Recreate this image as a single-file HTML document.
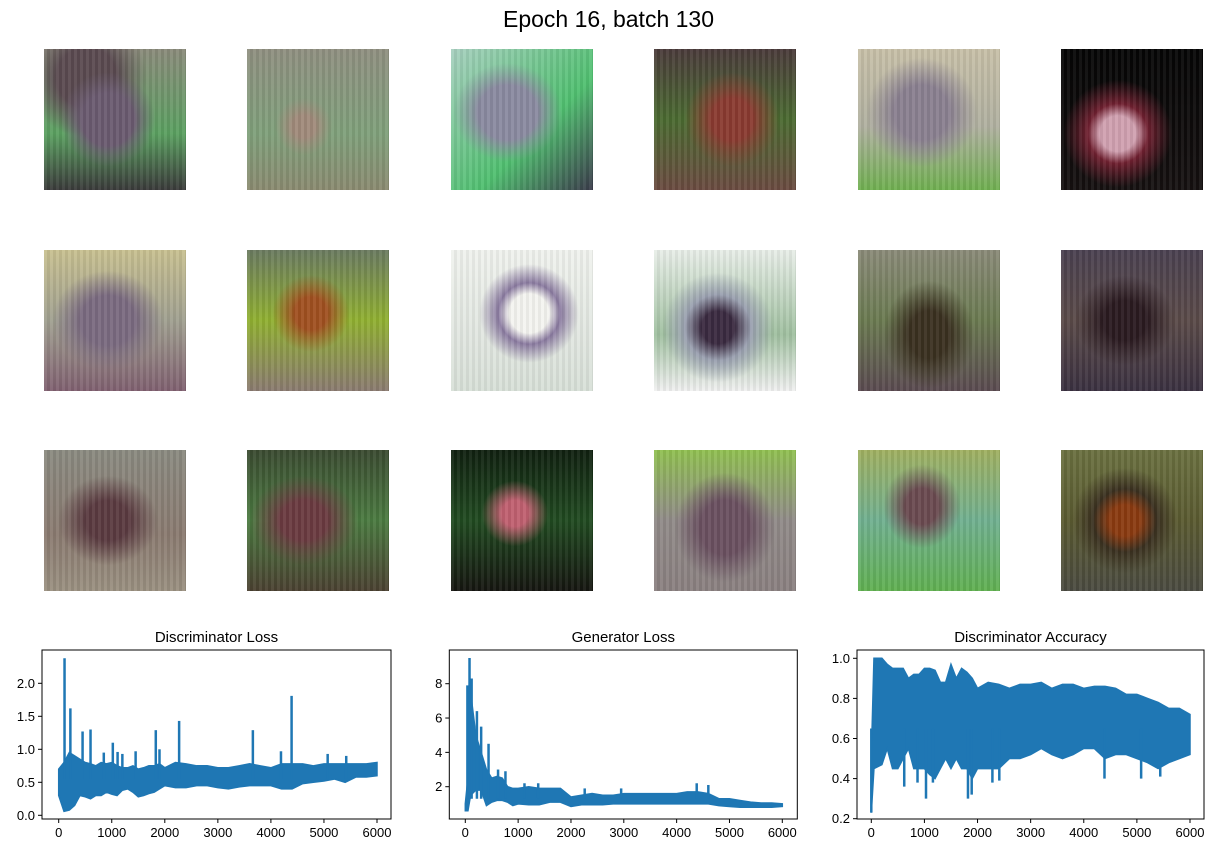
<!DOCTYPE html>
<html><head><meta charset="utf-8">
<style>
body{margin:0;background:#fff;width:1217px;height:853px;overflow:hidden;font-family:"Liberation Sans","DejaVu Sans",sans-serif;position:relative}
.tile{position:absolute;width:142px;height:141px}
.tile::after{content:"";position:absolute;inset:0;background:repeating-linear-gradient(90deg,rgba(255,255,255,0.06) 0 3px,rgba(0,0,0,0.05) 3px 6px)}
#title{position:absolute;left:0;width:1217px;top:6px;text-align:center;font-size:23px;color:#000}
svg{position:absolute;left:0;top:0}
</style></head><body>
<div id="title">Epoch 16, batch 130</div>
<div id="tiles"></div>
<svg id="chart" width="1217" height="853"></svg>
<script>
const tileCols=[44,247,451,654,858,1061];
const tileRows=[49,250,450];
const tileBg=[
"radial-gradient(circle at 45% 50%,#6a5a70 0 25%,transparent 45%),radial-gradient(circle at 30% 20%,#5a4a50 0 20%,transparent 40%),linear-gradient(#8a8a7a,#5aa060 60%,#3a3a3a)",
"radial-gradient(circle at 40% 55%,#a08a7a 0 10%,transparent 25%),linear-gradient(#8f8f80,#7fa07a 60%,#8a8a70)",
"radial-gradient(ellipse at 40% 45%,#8a8aa0 0 25%,transparent 45%),linear-gradient(135deg,#a8d0c0,#50c070 60%,#3a3a4a)",
"radial-gradient(circle at 55% 50%,#8a3a30 0 20%,transparent 45%),linear-gradient(#4a3a3a,#4a6a30 50%,#6a4a40)",
"radial-gradient(ellipse at 45% 45%,#8a8090 0 25%,transparent 50%),linear-gradient(#c8c0a8,#b0b0a0 55%,#70b050)",
"radial-gradient(ellipse at 40% 60%,#d0a0b0 0 15%,#702030 25%,transparent 45%),linear-gradient(#050505,#151010)",
"radial-gradient(ellipse at 45% 50%,#7a6a80 0 25%,transparent 50%),linear-gradient(#c8c090,#a0a090 50%,#806070)",
"radial-gradient(circle at 45% 45%,#a05020 0 15%,transparent 35%),linear-gradient(#6a7a60,#90b030 50%,#8a7a70)",
"radial-gradient(ellipse at 55% 45%,#f4f4f0 0 18%,#8a7aa0 28%,transparent 45%),linear-gradient(#f0f2ee,#d8e0d8)",
"radial-gradient(ellipse at 45% 55%,#3a2a40 0 15%,#9aa0b0 30%,transparent 50%),linear-gradient(#e8eee8,#a0c0a0 60%,#f0f0f0)",
"radial-gradient(ellipse at 50% 60%,#3a3020 0 20%,transparent 45%),linear-gradient(#8a8a78,#6a7a50 50%,#5a4a50)",
"radial-gradient(ellipse at 45% 50%,#2a1a20 0 20%,transparent 45%),linear-gradient(#4a4050,#5a4a48 50%,#3a3040)",
"radial-gradient(ellipse at 45% 50%,#5a3a40 0 20%,transparent 45%),linear-gradient(#8a8a80,#8a7a70 60%,#9a9080)",
"radial-gradient(ellipse at 40% 50%,#6a3a40 0 20%,transparent 45%),linear-gradient(#3a4a30,#4a7a40 50%,#4a4030)",
"radial-gradient(ellipse at 45% 45%,#c06070 0 12%,transparent 30%),linear-gradient(#102010,#204a20 50%,#151510)",
"radial-gradient(ellipse at 50% 55%,#6a5060 0 25%,transparent 50%),linear-gradient(#90c050,#908a88 50%,#8a8080)",
"radial-gradient(ellipse at 45% 40%,#6a4a50 0 15%,transparent 35%),linear-gradient(#a0b060,#70b090 50%,#60b050)",
"radial-gradient(circle at 45% 50%,#8a3a10 0 15%,#3a3020 30%,transparent 50%),linear-gradient(#6a7040,#5a5a30 50%,#4a4a40)"];
const tc=document.getElementById('tiles');
tileRows.forEach((y,r)=>tileCols.forEach((x,c)=>{
 const d=document.createElement('div');d.className='tile';
 d.style.left=x+'px';d.style.top=y+'px';d.style.background=tileBg[r*6+c];
 
 
 tc.appendChild(d);}));

// ---- chart data ----
const dSteps=[0,100,200,300,400,500,600,700,800,900,1000,1100,1200,1300,1400,1500,1600,1700,1800,1900,2000,2200,2400,2600,2800,3000,3200,3400,3600,3800,4000,4200,4400,4600,4800,5000,5200,5400,5600,5800,6000];
const dLossLo=[.3,.06,.08,.15,.3,.28,.25,.3,.3,.35,.32,.3,.38,.4,.35,.28,.3,.33,.35,.4,.45,.42,.42,.45,.45,.42,.4,.43,.45,.45,.45,.4,.4,.48,.5,.52,.55,.5,.58,.58,.6];
const dLossHi=[.7,.8,.95,.9,.85,.8,.78,.75,.8,.78,.8,.75,.72,.72,.75,.7,.72,.75,.75,.78,.72,.8,.78,.75,.75,.72,.72,.75,.78,.75,.72,.78,.78,.78,.75,.78,.78,.78,.78,.78,.8];
const dSpikeX=[110,220,450,600,850,1020,1110,1200,1450,1830,1900,2270,3660,4190,4390,5070,5420];
const dSpikeY=[2.38,1.62,1.27,1.3,.95,1.1,.96,.93,.97,1.29,1.0,1.43,1.29,.97,1.81,.93,.9];

const gSteps=[0,50,100,200,300,400,500,600,700,800,900,1000,1200,1400,1600,1800,2000,2200,2400,2600,2800,3000,3200,3400,3600,3800,4000,4200,4400,4600,4800,5000,5200,5400,5600,5800,6000];
const gLossLo=[.6,.6,1.5,1.8,1.8,.9,1.1,1.2,1.2,1.1,.9,1.0,.95,.95,1.1,1.1,.85,.95,.95,.95,1.0,1.0,1.0,1.0,1.0,1.0,1.0,1.0,1.0,1.0,.9,.85,.8,.8,.8,.8,.85];
const gLossHi=[1.0,2.5,7.5,5,4,3,2.5,2.6,2.5,2.0,1.9,1.9,2.0,1.9,1.9,1.9,1.4,1.5,1.6,1.5,1.5,1.6,1.6,1.6,1.6,1.6,1.6,1.7,1.7,1.6,1.3,1.3,1.2,1.1,1.05,1.05,1.0];
const gSpikeX=[40,80,120,220,300,440,620,760,1120,1380,2260,2950,4380,4600];
const gSpikeY=[7.9,9.5,8.3,6.4,5.5,4.5,3.0,2.9,2.2,2.2,1.9,1.9,2.2,2.1];

const aSteps=[0,50,200,300,400,500,600,700,800,900,1000,1100,1200,1300,1400,1500,1600,1700,1800,1900,2000,2200,2400,2600,2800,3000,3200,3400,3600,3800,4000,4200,4400,4600,4800,5000,5200,5400,5600,5800,6000];
const accLo=[.23,.45,.47,.55,.45,.45,.5,.55,.45,.45,.45,.42,.4,.45,.5,.45,.5,.45,.45,.4,.45,.45,.45,.5,.5,.52,.55,.52,.5,.52,.55,.55,.5,.52,.52,.5,.48,.45,.48,.5,.52];
const accHi=[.5,1.0,1.0,.97,.95,.95,.95,.9,.92,.92,.95,.95,.94,.88,.88,.97,.9,.95,.93,.9,.85,.88,.87,.85,.87,.87,.88,.85,.87,.87,.85,.86,.86,.85,.82,.82,.8,.78,.75,.75,.72];
const aSpikeX=[0,620,870,1030,1160,1820,1890,2280,2410,4390,5080,5440];
const aSpikeY=[.23,.36,.38,.3,.38,.3,.32,.38,.39,.4,.4,.41];

const xTicks=[0,1000,2000,3000,4000,5000,6000];
const panels=[
 {name:'discriminator-loss',title:'Discriminator Loss',box:[42,650,391,819],x0:58.7,x1:377,y0v:0,y0p:815.3,y1v:2,y1p:683.3,
  yt:[0,0.5,1,1.5,2],yl:['0.0','0.5','1.0','1.5','2.0'],s:dSteps,lo:dLossLo,hi:dLossHi,sx:dSpikeX,sy:dSpikeY,base:.55},
 {name:'generator-loss',title:'Generator Loss',box:[449.3,650,797.3,819],x0:465.3,x1:782.3,y0v:2,y0p:786.7,y1v:8,y1p:683.7,
  yt:[2,4,6,8],yl:['2','4','6','8'],s:gSteps,lo:gLossLo,hi:gLossHi,sx:gSpikeX,sy:gSpikeY,base:1.3},
 {name:'discriminator-accuracy',title:'Discriminator Accuracy',box:[857,650,1204,819],x0:871.3,x1:1190,y0v:0.2,y0p:818.7,y1v:1,y1p:658.3,
  yt:[0.2,0.4,0.6,0.8,1.0],yl:['0.2','0.4','0.6','0.8','1.0'],s:aSteps,lo:accLo,hi:accHi,sx:aSpikeX,sy:aSpikeY,base:.65}
];
const svg=document.getElementById('chart');const NS='http://www.w3.org/2000/svg';
function mk(t,a){const e=document.createElementNS(NS,t);for(const k in a)e.setAttribute(k,a[k]);return e;}
panels.forEach(p=>{
 const X=v=>p.x0+(v/6000)*(p.x1-p.x0);
 const Y=v=>p.y0p+(v-p.y0v)*(p.y1p-p.y0p)/(p.y1v-p.y0v);
 const g=mk('g',{});
 
 
 svg.appendChild(g);
 let pts=[];
 p.s.forEach((s,i)=>pts.push(X(s)+','+Y(p.hi[i])));
 for(let i=p.s.length-1;i>=0;i--)pts.push(X(p.s[i])+','+Y(p.lo[i]));
 const band=mk('polygon',{points:pts.join(' '),fill:'#1f77b4',stroke:'#1f77b4','stroke-width':1.5,'stroke-linejoin':'miter'});
 
 
 g.appendChild(band);
 p.sx.forEach((sx,i)=>{
  const l=mk('line',{x1:X(sx),x2:X(sx),y1:Y(p.base),y2:Y(p.sy[i]),stroke:'#1f77b4','stroke-width':2.5});
  
  
  g.appendChild(l);
 });
 const [bx0,by0,bx1,by1]=p.box;
 const fr=mk('rect',{x:bx0,y:by0,width:bx1-bx0,height:by1-by0,fill:'none',stroke:'#000','stroke-width':1});
 
 
 g.appendChild(fr);
 xTicks.forEach(t=>{
  g.appendChild(mk('line',{x1:X(t),x2:X(t),y1:by1,y2:by1+4,stroke:'#000'}));
  const tx=mk('text',{x:X(t),y:by1+18,'text-anchor':'middle','font-size':13,fill:'#000'});
  tx.textContent=t;
  
  
  g.appendChild(tx);
 });
 p.yt.forEach((t,i)=>{
  g.appendChild(mk('line',{x1:bx0-4,x2:bx0,y1:Y(t),y2:Y(t),stroke:'#000'}));
  const tx=mk('text',{x:bx0-7,y:Y(t)+4.5,'text-anchor':'end','font-size':13,fill:'#000'});
  tx.textContent=p.yl[i];
  
  
  g.appendChild(tx);
 });
 const ti=mk('text',{x:(bx0+bx1)/2,y:642,'text-anchor':'middle','font-size':15,fill:'#000'});
 ti.textContent=p.title;
 
 
 g.appendChild(ti);
});
</script>
</body></html>
